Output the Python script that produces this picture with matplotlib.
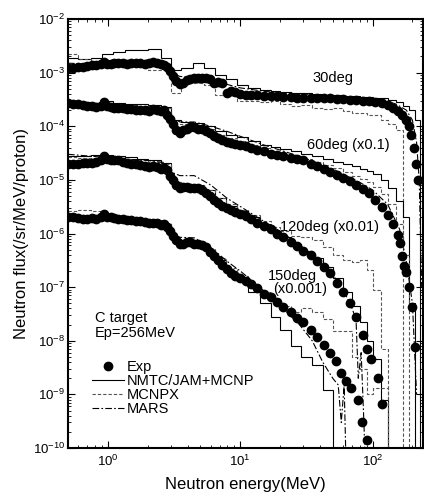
import matplotlib.pyplot as plt
from matplotlib.lines import Line2D
import numpy as np

plt.rcParams['font.family'] = ['Liberation Sans', 'DejaVu Sans']
plt.rcParams['mathtext.fontset'] = 'custom'
plt.rcParams['mathtext.rm'] = 'Liberation Sans'
plt.rcParams['mathtext.it'] = 'Liberation Sans:italic'
plt.rcParams['mathtext.bf'] = 'Liberation Sans:bold'

# energy bin edges of the calculated spectra (MeV)
edges = [0.5, 0.6, 0.75, 0.9, 1.1, 1.35, 1.65, 2.0, 2.5, 3.0, 3.6, 4.4, 5.3, 6.4, 7.8,
         9.5, 11.5, 14, 17, 20, 24, 29, 35, 42, 50, 60, 70, 80, 90, 100, 115, 130,
         150, 170, 190, 210, 230, 250]

# measured points (energy in MeV)
e_low = [0.5, 0.55, 0.6, 0.65, 0.7, 0.76, 0.82, 0.88, 0.93, 0.98, 1.05, 1.12, 1.2, 1.3,
         1.4, 1.5, 1.62, 1.75, 1.9, 2.05, 2.2, 2.35, 2.5, 2.65, 2.8, 2.95, 3.1, 3.3, 3.5,
         3.7, 3.95, 4.2, 4.5, 4.8, 5.1, 5.5, 5.9, 6.3, 6.8, 7.3, 7.9, 8.5, 9.2, 10, 11,
         12, 13.5, 15, 17, 19, 21, 24, 27, 30, 34, 38, 43, 48]

e30 = e_low + [54, 60, 67, 75, 84, 94, 105, 118, 130, 142, 155, 167, 178, 188, 196,
               204, 212, 220]
exp30 = [1.20e-3, 1.22e-3, 1.28e-3, 1.30e-3, 1.35e-3, 1.36e-3, 1.40e-3, 1.42e-3, 1.60e-3,
         1.45e-3, 1.42e-3, 1.50e-3, 1.48e-3, 1.50e-3, 1.47e-3, 1.50e-3, 1.48e-3, 1.50e-3,
         1.47e-3, 1.50e-3, 1.55e-3, 1.50e-3, 1.45e-3, 1.40e-3, 1.30e-3, 1.05e-3, 8.5e-4,
         7.0e-4, 6.2e-4, 6.3e-4, 7.2e-4, 7.5e-4, 8.0e-4, 7.8e-4, 8.0e-4, 7.8e-4, 7.6e-4,
         6.5e-4, 6.6e-4, 6.3e-4, 4.2e-4, 4.6e-4, 4.3e-4, 4.0e-4, 3.9e-4, 3.8e-4, 3.8e-4,
         3.7e-4, 3.6e-4, 3.6e-4, 3.5e-4, 3.5e-4, 3.4e-4, 3.4e-4, 3.4e-4, 3.3e-4, 3.3e-4,
         3.3e-4, 3.2e-4, 3.2e-4, 3.1e-4, 3.1e-4, 3.0e-4, 2.9e-4, 2.8e-4, 2.7e-4, 2.5e-4,
         2.2e-4, 1.9e-4, 1.6e-4, 1.3e-4, 1.0e-4, 7.0e-5, 4.0e-5, 2.0e-5, 1.0e-5]

e60 = e_low + [54, 60, 67, 75, 84, 94, 105, 118, 130, 142, 155, 160, 166, 173, 180, 189,
               199, 210]
exp60 = [2.7e-4, 2.6e-4, 2.6e-4, 2.5e-4, 2.4e-4, 2.4e-4, 2.3e-4, 2.4e-4, 2.8e-4, 2.4e-4,
         2.3e-4, 2.2e-4, 2.2e-4, 2.2e-4, 2.1e-4, 2.1e-4, 2.0e-4, 2.0e-4, 2.0e-4, 1.95e-4,
         2.1e-4, 2.0e-4, 1.9e-4, 2.0e-4, 1.6e-4, 1.35e-4, 1.1e-4, 8.5e-5, 7.5e-5, 8.5e-5,
         9.0e-5, 9.5e-5, 9.5e-5, 9.0e-5, 8.8e-5, 8.3e-5, 7.5e-5, 6.5e-5, 6.0e-5, 5.5e-5,
         5.0e-5, 4.8e-5, 4.6e-5, 4.4e-5, 4.2e-5, 3.9e-5, 3.6e-5, 3.4e-5, 3.1e-5, 2.9e-5,
         2.8e-5, 2.6e-5, 2.4e-5, 2.3e-5, 2.0e-5, 1.8e-5, 1.6e-5, 1.4e-5, 1.25e-5, 1.1e-5,
         9.5e-6, 8.0e-6, 6.8e-6, 5.6e-6, 4.3e-6, 3.1e-6, 2.2e-6, 1.5e-6, 9.5e-7, 6.6e-7,
         3.8e-7, 2.5e-7, 1.9e-7, 1.0e-7, 4.2e-8, 7.6e-9]

e120 = e_low + [54, 60, 67, 75, 84, 90, 98, 109, 117]
exp120 = [2.0e-5, 2.0e-5, 2.0e-5, 2.1e-5, 2.1e-5, 2.1e-5, 2.2e-5, 2.3e-5, 2.8e-5, 2.4e-5,
          2.3e-5, 2.3e-5, 2.3e-5, 2.2e-5, 2.1e-5, 2.0e-5, 2.0e-5, 1.9e-5, 1.8e-5, 1.75e-5,
          1.8e-5, 1.75e-5, 1.6e-5, 1.7e-5, 1.5e-5, 1.2e-5, 1.0e-5, 8.0e-6, 7.0e-6, 7.5e-6,
          7.5e-6, 7.2e-6, 7.0e-6, 7.0e-6, 6.5e-6, 5.8e-6, 5.0e-6, 4.3e-6, 3.7e-6, 3.3e-6,
          3.0e-6, 2.7e-6, 2.5e-6, 2.3e-6, 2.1e-6, 1.9e-6, 1.6e-6, 1.4e-6, 1.2e-6, 1.0e-6,
          8.5e-7, 7.0e-7, 5.8e-7, 4.8e-7, 3.9e-7, 3.1e-7, 2.4e-7, 1.8e-7, 1.2e-7, 8.0e-8,
          5.0e-8, 2.8e-8, 1.3e-8, 7.0e-9, 4.5e-9, 2.0e-9, 6.5e-10]

e150 = e_low + [53, 58, 63, 69, 77, 83, 91]
exp150 = [2.0e-6, 2.0e-6, 1.95e-6, 1.9e-6, 1.9e-6, 1.95e-6, 1.9e-6, 2.0e-6, 2.3e-6, 2.0e-6,
          2.0e-6, 1.95e-6, 1.9e-6, 1.85e-6, 1.8e-6, 1.75e-6, 1.7e-6, 1.7e-6, 1.65e-6, 1.6e-6,
          1.6e-6, 1.55e-6, 1.45e-6, 1.5e-6, 1.3e-6, 1.1e-6, 9.0e-7, 7.5e-7, 6.5e-7, 6.3e-7,
          6.8e-7, 6.8e-7, 6.5e-7, 6.4e-7, 6.0e-7, 5.5e-7, 4.6e-7, 3.8e-7, 3.2e-7, 2.6e-7,
          2.2e-7, 1.8e-7, 1.6e-7, 1.5e-7, 1.3e-7, 1.15e-7, 9.5e-8, 7.5e-8, 6.5e-8, 5.2e-8,
          4.3e-8, 3.4e-8, 2.7e-8, 2.2e-8, 1.6e-8, 1.2e-8, 8.5e-9, 6.0e-9, 4.2e-9, 2.5e-9,
          1.8e-9, 1.3e-9, 8.0e-10, 3.0e-10, 1.4e-10]

# NMTC/JAM+MCNP histograms (one value per bin, last value is the cut-off)
nmtc30 = [1.9e-3, 1.8e-3, 1.9e-3, 2.2e-3, 2.4e-3, 2.6e-3, 2.6e-3, 2.8e-3, 1.9e-3,
          1.1e-3, 1.2e-3, 1.5e-3, 1.2e-3, 9e-4, 7.5e-4, 6e-4, 5.2e-4,
          4.8e-4, 4.6e-4, 4.4e-4, 4.2e-4, 4.1e-4, 4.0e-4, 3.9e-4, 3.8e-4,
          3.7e-4, 3.6e-4, 3.5e-4, 3.5e-4, 3.4e-4, 3.3e-4, 3.1e-4, 2.8e-4, 2.4e-4, 2.0e-4,
          1.3e-4, 1e-12]
nmtc60 = [2.9e-4, 2.8e-4, 2.7e-4, 2.9e-4, 2.7e-4, 2.6e-4, 2.6e-4, 2.5e-4, 2.3e-4,
          1.3e-4, 1.2e-4, 1.15e-4, 1.0e-4, 8e-5, 7e-5, 6.3e-5, 5.2e-5,
          4.5e-5, 4.1e-5, 3.7e-5, 3.4e-5, 3.1e-5, 2.8e-5, 2.5e-5, 2.2e-5,
          2.0e-5, 1.8e-5, 1.6e-5, 1.45e-5, 1.3e-5, 1.0e-5, 7e-6, 4e-6, 2e-6, 5e-8, 1e-12]
nmtc120 = [2.8e-5, 2.8e-5, 2.9e-5, 2.9e-5, 2.8e-5, 2.7e-5, 2.5e-5, 2.3e-5, 2.1e-5,
           9e-6, 8.5e-6, 8e-6, 6.5e-6, 4.5e-6, 3.3e-6, 2.6e-6, 2.0e-6,
           1.5e-6, 1.1e-6, 8.5e-7, 6.5e-7, 4.8e-7, 3.5e-7, 2.4e-7, 1.5e-7,
           8e-8, 4.5e-8, 2.2e-8, 1.0e-8, 4.5e-9, 8e-10, 1e-12]
nmtc150 = [2.3e-6, 2.1e-6, 2.1e-6, 2.1e-6, 2.0e-6, 1.9e-6, 1.8e-6, 1.7e-6, 1.5e-6,
           8e-7, 7e-7, 6.5e-7, 5e-7, 3.2e-7, 2.0e-7, 1.3e-7, 8e-8,
           5e-8, 2.8e-8, 1.6e-8, 8e-9, 5e-9, 3.5e-9, 1.2e-9, 1e-12]

# MCNPX histograms
mcnpx30 = [2.2e-3, 1.8e-3, 1.6e-3, 1.5e-3, 1.6e-3, 1.7e-3, 1.5e-3, 1.1e-3, 1.3e-3,
           4.2e-4, 6.5e-4, 6.5e-4, 6.0e-4, 3.8e-4, 3.8e-4, 3.0e-4, 3.0e-4,
           2.8e-4, 2.9e-4, 2.6e-4, 2.4e-4, 2.5e-4, 2.2e-4, 2.1e-4, 2.2e-4,
           1.9e-4, 1.8e-4, 1.8e-4, 1.6e-4, 1.6e-4, 1.3e-4, 1.1e-4, 8.5e-5, 1e-12]
mcnpx60 = [2.8e-4, 2.7e-4, 2.6e-4, 2.6e-4, 2.5e-4, 2.5e-4, 2.4e-4, 2.3e-4, 2.2e-4,
           1.1e-4, 1.1e-4, 1.05e-4, 9e-5, 7e-5, 6e-5, 5.3e-5, 4.5e-5,
           3.9e-5, 3.5e-5, 3.1e-5, 2.8e-5, 2.5e-5, 2.2e-5, 1.9e-5, 1.65e-5,
           1.4e-5, 1.2e-5, 1.05e-5, 9e-6, 7.5e-6, 5.5e-6, 3.5e-6, 1.5e-6, 4e-7, 1e-12]
mcnpx120 = [2.7e-5, 2.6e-5, 2.6e-5, 2.7e-5, 2.6e-5, 2.5e-5, 2.3e-5, 2.2e-5, 2.0e-5,
            9e-6, 8.5e-6, 8e-6, 6.5e-6, 4.5e-6, 3.5e-6, 2.8e-6, 2.2e-6,
            1.7e-6, 1.3e-6, 1.1e-6, 9e-7, 8.5e-7, 7.5e-7, 5.6e-7, 4e-7,
            3.2e-7, 3.0e-7, 3.2e-7, 2.1e-7, 9e-8, 7e-9, 1e-12]
mcnpx150 = [2.6e-6, 2.7e-6, 2.6e-6, 2.2e-6, 2.1e-6, 2.0e-6, 1.9e-6, 1.8e-6, 1.6e-6,
            8e-7, 7e-7, 6.5e-7, 5.2e-7, 3.5e-7, 2.3e-7, 1.6e-7, 1.1e-7,
            8e-8, 6e-8, 4.5e-8, 3.5e-8, 4e-8, 3.5e-8, 2.5e-8, 1.5e-8,
            1.5e-8, 5e-9, 3e-9, 1e-9, 1.3e-9, 1.3e-9, 1e-12]

# MARS curves
mars30_e = [0.5, 0.7, 1.0, 1.5, 2.0, 2.7, 3.0, 3.5, 4.5, 6, 8, 10, 15, 20, 30, 50, 80,
            120, 150, 180, 200, 215, 225, 235]
mars30 = [1.5e-3, 1.45e-3, 1.5e-3, 1.6e-3, 1.7e-3, 1.6e-3, 1.0e-3, 8.5e-4, 8e-4, 7e-4,
          6e-4, 5.2e-4, 4.5e-4, 4.2e-4, 3.9e-4, 3.7e-4, 3.5e-4, 3.1e-4, 2.6e-4, 2e-4,
          1.3e-4, 5e-5, 1e-5, 1e-7]
mars60_e = [0.5, 0.7, 1.0, 1.5, 2.0, 2.7, 3.0, 3.5, 4.5, 6, 8, 10, 15, 20, 30, 50, 80,
            100, 130, 160, 180, 200, 215]
mars60 = [2.9e-4, 2.7e-4, 2.5e-4, 2.4e-4, 2.3e-4, 2.2e-4, 1.5e-4, 1.2e-4, 1.2e-4, 1.0e-4,
          8e-5, 6.5e-5, 4.5e-5, 3.6e-5, 2.6e-5, 1.6e-5, 9e-6, 6.5e-6, 3.5e-6, 1.2e-6,
          3e-7, 5e-8, 1e-9]
mars120_e = [0.5, 0.7, 1.0, 1.5, 2.0, 2.7, 3.0, 3.5, 4.5, 6, 8, 10, 15, 20, 30, 40, 50,
             60, 70, 75, 78, 82, 86, 90]
mars120 = [3.0e-5, 2.8e-5, 2.6e-5, 2.4e-5, 2.3e-5, 2.1e-5, 1.4e-5, 1.2e-5, 1.2e-5, 8e-6,
           4.5e-6, 3.2e-6, 1.7e-6, 1.1e-6, 5.5e-7, 3e-7, 1.7e-7, 9e-8, 4e-8, 2.5e-8,
           2e-9, 6e-9, 3e-10, 1e-11]
mars150_e = [0.5, 0.7, 1.0, 1.5, 2.0, 2.7, 3.0, 3.5, 4.5, 6, 8, 10, 14, 20, 28, 35, 42,
             50, 55, 58, 61, 64]
mars150 = [2.2e-6, 2.1e-6, 2.0e-6, 1.9e-6, 1.8e-6, 1.6e-6, 1.0e-6, 8.5e-7, 8.3e-7, 5.5e-7,
           3e-7, 2e-7, 1.0e-7, 4.5e-8, 2e-8, 1e-8, 4e-9, 2e-9, 1.5e-9, 3e-10, 1.5e-9, 1e-11]

angles = [
    (e30, exp30, nmtc30, mcnpx30, mars30_e, mars30),
    (e60, exp60, nmtc60, mcnpx60, mars60_e, mars60),
    (e120, exp120, nmtc120, mcnpx120, mars120_e, mars120),
    (e150, exp150, nmtc150, mcnpx150, mars150_e, mars150),
]

fig = plt.figure(figsize=(4.24, 5.0), dpi=100)
ax = fig.add_axes([0.1604, 0.104, 0.837, 0.858])

dash = (0, (3, 1.8))
dashdot = (0, (6, 2, 1.5, 2))

for e, f, nm, mx, me, mf in angles:
    ax.stairs(nm, edges[:len(nm) + 1], baseline=None, color='black', lw=0.8, zorder=2)
    ax.stairs(mx, edges[:len(mx) + 1], baseline=None, color='#555555', lw=0.8,
              linestyle=dash, zorder=2)
    ax.plot(me, mf, color='black', lw=0.8, linestyle=dashdot, zorder=2)
    ax.plot(e, f, 'o', color='black', ms=6, mec='black', zorder=3)

ax.set_xscale('log')
ax.set_yscale('log')
ax.set_xlim(0.5, 240)
ax.set_ylim(1e-10, 1e-2)
ax.set_yticks([10.0 ** k for k in range(-10, -1)])

ax.tick_params(which='both', direction='in', top=True, right=True, labelsize=9.5)
ax.tick_params(which='major', length=5, width=0.8)
ax.tick_params(which='minor', length=2.5, width=0.6)
ax.tick_params(axis='y', pad=2)
ax.tick_params(axis='x', pad=4)
for s in ax.spines.values():
    s.set_linewidth(1.5)

ax.set_xlabel('Neutron energy(MeV)', fontsize=12, labelpad=6)
ax.set_ylabel('Neutron flux(/sr/MeV/proton)', fontsize=12, labelpad=3)

tx = dict(transform=ax.transAxes, fontsize=10.5, va='center')
ax.text(0.746, 0.862, '30deg', ha='center', **tx)
ax.text(0.789, 0.706, '60deg (x0.1)', ha='center', **tx)
ax.text(0.738, 0.515, '120deg (x0.01)', ha='center', **tx)
ax.text(0.563, 0.401, '150deg', ha='left', **tx)
ax.text(0.577, 0.371, '(x0.001)', ha='left', **tx)
ax.text(0.076, 0.303, 'C target', ha='left', **tx)
ax.text(0.076, 0.268, 'Ep=256MeV', ha='left', **tx)

handles = [
    Line2D([], [], marker='o', ls='none', color='black', ms=6),
    Line2D([], [], color='black', lw=0.8),
    Line2D([], [], color='#555555', lw=0.8, ls=dash),
    Line2D([], [], color='black', lw=0.8, ls=dashdot),
]
ax.legend(handles, ['Exp', 'NMTC/JAM+MCNP', 'MCNPX', 'MARS'], loc='upper left',
          bbox_to_anchor=(0.068, 0.205), frameon=False, fontsize=10.5,
          handlelength=2.2, handletextpad=0.2, labelspacing=0.0, borderpad=0,
          borderaxespad=0)

fig.savefig('out.png', dpi=100)
